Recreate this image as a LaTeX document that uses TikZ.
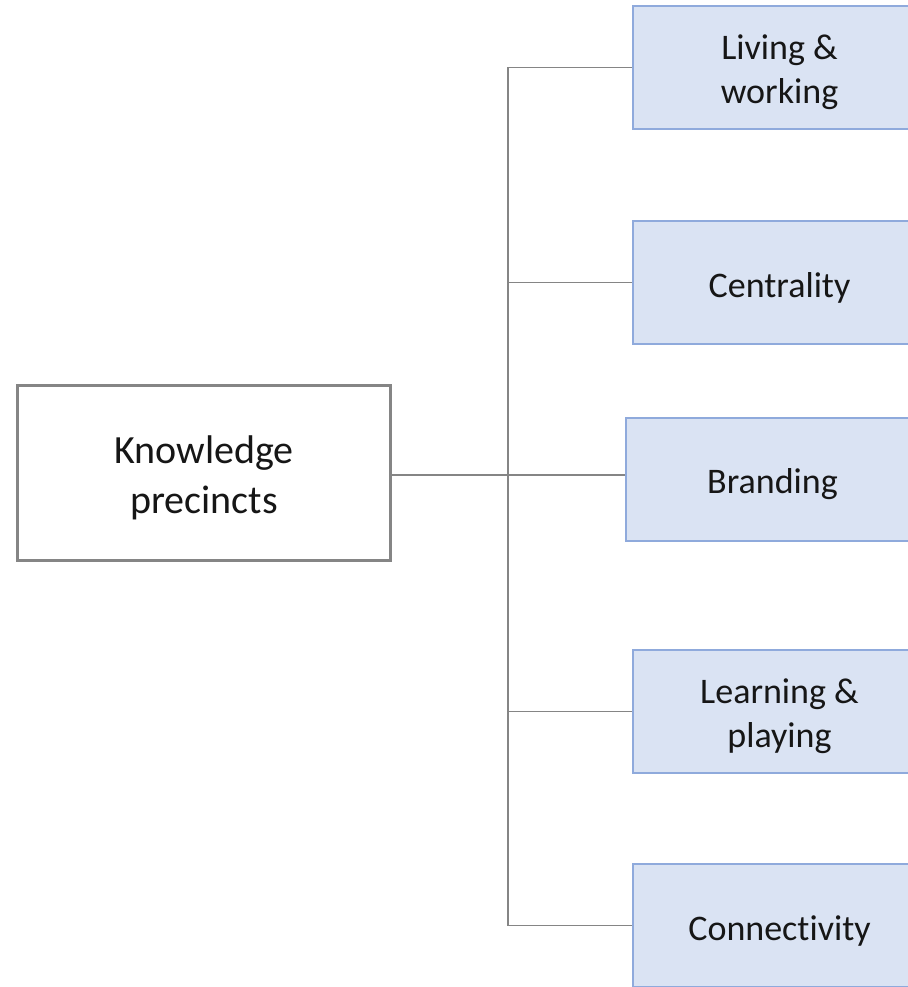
\documentclass[tikz,border=0pt]{standalone}
\usepackage{fontspec}
\setmainfont{Carlito}[Ligatures=NoCommon]
\usetikzlibrary{backgrounds}
\definecolor{boxfill}{HTML}{DAE3F3}
\definecolor{boxedge}{HTML}{8FAADC}
\definecolor{hubedge}{HTML}{858585}
\definecolor{linkgray}{HTML}{858585}
\definecolor{inkgray}{HTML}{161616}
% taller first line, so each label sits a little lower in its box
\newcommand\topicstrut{\rule{0pt}{35pt}}
\newcommand\hubstrut{\rule{0pt}{38pt}}
\begin{document}
\begin{tikzpicture}[x=1pt,y=-1pt,
  topic/.style={draw=boxedge, fill=boxfill, line width=2pt, anchor=west,
    minimum width=293pt, minimum height=123pt, inner sep=0pt, align=center,
    text=inkgray, font=\fontsize{36}{44}\selectfont},
  hub/.style={draw=hubedge, fill=white, line width=2.5pt, minimum width=373pt,
    minimum height=175pt, inner sep=0pt, align=center,
    text=inkgray, font=\fontsize{40}{50}\selectfont},
  link/.style={draw=linkgray, line width=1.6pt}]
  \useasboundingbox (0,0) rectangle (907,987);

  % central topic and its five aspects
  \node[hub] (hub) at (204,473) {\hubstrut Knowledge\\precincts};
  \node[topic] (living) at (632,67.5) {\topicstrut Living \&\\working};
  \node[topic] (central) at (632,282.5) {\topicstrut Centrality};
  \node[topic] (brand) at (625,479) {\topicstrut Branding};
  \node[topic] (learn) at (632,711.5) {\topicstrut Learning \&\\playing};
  \node[topic] (conn) at (632,925.5) {\topicstrut Connectivity};
  \coordinate (trunk) at (508,475);

  % bracket connectors behind the boxes
  \begin{scope}[on background layer]
    \draw[link] (living.west) -- (living.west -| trunk)
      -- (conn.west -| trunk) -- (conn.west);
    \draw[link] (central.west -| trunk) -- (central.west);
    \draw[link] (learn.west -| trunk) -- (learn.west);
    \draw[link] (hub.east |- trunk) -- (brand.west |- trunk);
  \end{scope}
\end{tikzpicture}
\end{document}
